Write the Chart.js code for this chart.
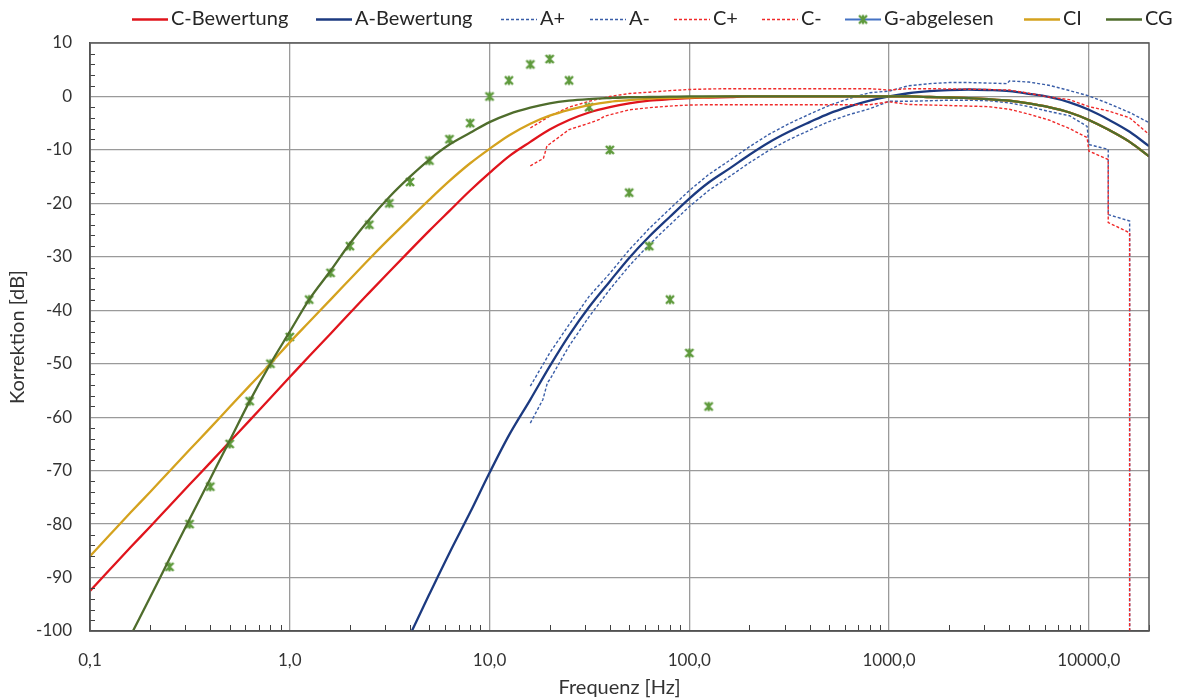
<!DOCTYPE html>
<html lang="de">
<head>
<meta charset="utf-8">
<title>Korrektion über Frequenz</title>
<script src="https://cdn.jsdelivr.net/npm/chart.js@4.4.1/dist/chart.umd.min.js"></script>
<style>
    html, body { margin: 0; padding: 0; background: #ffffff; }
    canvas { display: block; }
</style>
</head>
<body>
<canvas id="myChart" width="1178" height="698"></canvas>
<script>
// DATEN
const freqBasis = [0.1, 0.125, 0.16, 0.2, 0.25, 0.315, 0.4, 0.5, 0.63, 0.8,
    1, 1.25, 1.6, 2, 2.5, 3.15, 4, 5, 6.3, 8,
    10, 12.5, 16, 20, 25, 31.5, 40, 50, 63, 80,
    100, 125, 160, 200, 250, 315, 400, 500, 630, 800,
    1000, 1250, 1600, 2000, 2500, 3150, 4000, 5000, 6300, 8000,
    10000, 12500, 16000, 20000]
const cBewertung = [-92.5, -88.6, -84.3, -80.5, -76.6, -72.6, -68.5, -64.6, -60.6, -56.4,
    -52.5, -48.6, -44.4, -40.5, -36.7, -32.8, -28.8, -25.1, -21.4, -17.6,
    -14.3, -11.2, -8.5, -6.2, -4.4, -3.0, -2.0, -1.3, -0.8, -0.5,
    -0.3, -0.2, -0.1, 0, 0, 0, 0, 0, 0, 0,
    0, 0, -0.1, -0.2, -0.3, -0.5, -0.8, -1.3, -2.0, -3.0,
    -4.4, -6.2, -8.5, -11.2]
const ciKurve = [-86.0, -82.1, -77.8, -74.0, -70.1, -66.1, -62.0, -58.1, -54.1, -50.0,
    -46.0, -42.2, -38.0, -34.2, -30.4, -26.6, -22.8, -19.3, -15.8, -12.5,
    -9.8, -7.3, -5.1, -3.6, -2.5, -1.6, -1.0, -0.7, -0.4, -0.3,
    -0.2, -0.1, 0, 0, 0, 0, 0, 0, 0, 0,
    0, 0, -0.1, -0.2, -0.3, -0.5, -0.8, -1.3, -2.0, -3.0,
    -4.4, -6.2, -8.5, -11.2]
const cgKurve = [-115.8, -108.7, -100.8, -93.7, -86.5, -79.1, -71.5, -64.4, -57.0, -50.0,
    -44.0, -38.0, -32.6, -27.5, -23.0, -18.8, -15.0, -11.8, -9.0, -6.8,
    -4.8, -3.3, -2.1, -1.3, -0.8, -0.5, -0.3, -0.15, -0.1, -0.05,
    0, 0, 0, 0, 0, 0, 0, 0, 0, 0,
    0, 0, -0.1, -0.2, -0.3, -0.5, -0.8, -1.3, -2.0, -3.0,
    -4.4, -6.2, -8.5, -11.2]

const freqA = [4, 5, 6.3, 8, 10, 12.5, 16, 20, 25, 31.5, 40, 50, 63, 80,
    100, 125, 160, 200, 250, 315, 400, 500, 630, 800,
    1000, 1250, 1600, 2000, 2500, 3150, 4000, 5000, 6300, 8000,
    10000, 12500, 16000, 20000]
const aBewertung = [-100.7, -93.1, -85.4, -77.8, -70.4, -63.4, -56.7, -50.5, -44.7, -39.4, -34.6, -30.2, -26.2, -22.5,
    -19.1, -16.1, -13.4, -10.9, -8.6, -6.6, -4.8, -3.2, -1.9, -0.8,
    0, 0.6, 1.0, 1.2, 1.3, 1.2, 1.0, 0.5, -0.1, -1.1,
    -2.5, -4.3, -6.6, -9.3]

const freqAPlus = [16, 20, 25, 31.5, 40, 50, 63, 80, 100, 125, 160, 200, 250, 315, 400, 500, 630, 800,
    1000, 1250, 1600, 2000, 2500, 3150, 3900, 4000, 5000, 6300, 8000, 10000, 12500, 16000, 20000]
const aPlus = [-54.2, -48.0, -42.7, -37.4, -33.1, -28.7, -24.7, -21.0, -17.6, -14.6, -11.9, -9.4, -7.1, -5.1, -3.3, -1.7, -0.4, 0.7,
    1.0, 2.0, 2.4, 2.6, 2.6, 2.5, 2.4, 2.9, 2.7, 2.1, 1.1, 0.1, -1.3, -3.0, -4.9]

const freqAMinus = [16, 18.5, 19.5, 20, 25, 31.5, 40, 50, 63, 80, 100, 125, 160, 200, 250, 315, 400, 500, 630, 800,
    1000, 1250, 1600, 2000, 2500, 3150, 4000, 5000, 6300, 8000, 9800, 10000, 12500, 12500, 16000, 16000]
const aMinus = [-61.1, -56.7, -53.5, -53.0, -46.7, -41.2, -36.1, -31.7, -27.7, -24.0, -20.6, -17.6, -14.9, -12.4, -10.1, -8.1, -6.3, -4.7, -3.4, -2.3,
    -0.9, -0.9, -0.8, -0.7, -0.7, -0.8, -1.2, -1.9, -2.8, -3.6, -5.6, -9.0, -9.9, -22.1, -23.3, -110]

const freqCPlus = [16, 20, 25, 31.5, 40, 50, 63, 80, 100, 125, 160, 200, 250, 315, 400, 500, 630, 800,
    1000, 1250, 1600, 2000, 2500, 3150, 4000, 5000, 6300, 8000, 10000, 12500, 16000, 20000]
const cPlus = [-5.9, -3.7, -2.0, -0.9, 0.0, 0.55, 0.8, 1.1, 1.3, 1.4, 1.45, 1.45, 1.45, 1.45, 1.45, 1.45, 1.45, 1.45,
    1.2, 1.45, 1.45, 1.4, 1.35, 1.3, 1.2, 0.6, -0.1, -0.6, -1.9, -2.7, -4.0, -7.1]

const freqCMinus = [16, 18.6, 19.4, 20, 25, 31.5, 35.5, 37.6, 50, 63, 80, 100, 125, 160, 200, 250, 315, 400, 500, 630, 800,
    1000, 1250, 1600, 2000, 2500, 3150, 4000, 5000, 6300, 8000, 9800, 10000, 12500, 12500, 16000, 16000]
const cMinus = [-13.0, -11.6, -9.2, -8.9, -6.2, -5.0, -4.3, -3.7, -2.5, -2.1, -1.8, -1.6, -1.55, -1.55, -1.55, -1.55, -1.55, -1.55, -1.55, -1.55, -1.55,
    -1.0, -1.5, -1.6, -1.7, -1.8, -1.9, -2.4, -3.3, -4.4, -6.0, -7.7, -10.2, -11.8, -23.6, -25.5, -110]

const freqG = [0.25, 0.315, 0.4, 0.5, 0.63, 0.8, 1, 1.25, 1.6, 2, 2.5, 3.15, 4, 5, 6.3, 8,
    10, 12.5, 16, 20, 25, 31.5, 40, 50, 63, 80, 100, 125]
const gAbgelesen = [-88, -80, -73, -65, -57, -50, -45, -38, -33, -28, -24, -20, -16, -12, -8, -5,
    0, 3, 6, 7, 3, -2, -10, -18, -28, -38, -48, -58]

const xTicks = [0.1, 1, 10, 100, 1000, 10000]

// FUNKTIONEN
function punkte(fx, fy) {
    return fx.map((x, i) => ({ x: x, y: fy[i] }))
}

function markerBild(farbe) {
    const c = document.createElement("canvas")
    c.width = 12
    c.height = 12
    const g = c.getContext("2d")
    g.strokeStyle = farbe
    g.lineWidth = 2.4
    g.beginPath()
    g.moveTo(2, 2); g.lineTo(10, 10)
    g.moveTo(10, 2); g.lineTo(2, 10)
    g.moveTo(6, 1.5); g.lineTo(6, 10.5)
    g.stroke()
    return c
}

const marker = markerBild("#5e9a3c")
const legendeX = [132, 316, 501, 590, 674, 762, 845, 1024, 1106] // Startpunkte der Legendeneinträge

const legendePlugin = {
    id: "legende",
    afterDraw(chart) {
        const ctx = chart.ctx
        const y = 19
        ctx.save()
        ctx.font = "20px Lato"
        ctx.textBaseline = "middle"
        chart.data.datasets.forEach((ds, i) => {
            const x0 = legendeX[i]
            ctx.strokeStyle = ds.borderColor
            ctx.lineWidth = ds.legendBreite || ds.borderWidth
            ctx.setLineDash(ds.borderDash || [])
            ctx.beginPath()
            ctx.moveTo(x0, y + 0.5)
            ctx.lineTo(x0 + 36, y + 0.5)
            ctx.stroke()
            ctx.setLineDash([])
            if (ds.showLine === false) {
                ctx.drawImage(marker, x0 + 18 - 6, y - 5.5)
            }
            ctx.fillStyle = "#262626"
            ctx.fillText(ds.label, x0 + 39, y)
        })
        ctx.restore()
    }
}

const rahmenPlugin = {
    id: "rahmen",
    afterDraw(chart) {
        const ctx = chart.ctx
        const a = chart.chartArea
        const xs = chart.scales.x
        const ys = chart.scales.y
        ctx.save()
        ctx.strokeStyle = "#404040"
        ctx.lineWidth = 1
        ctx.beginPath()
        // kleine Striche auf der y-Achse
        for (let v = -98; v < 10; v += 2) {
            if (v % 10 === 0) continue
            const py = Math.round(ys.getPixelForValue(v)) + 0.5
            ctx.moveTo(a.left, py)
            ctx.lineTo(a.left + 5, py)
        }
        // kleine Striche auf der x-Achse
        for (const d of xTicks) {
            for (let m = 2; m <= 9; m++) {
                const v = m * d
                if (v > 20000) break
                const px = Math.round(xs.getPixelForValue(v)) + 0.5
                ctx.moveTo(px, a.bottom)
                ctx.lineTo(px, a.bottom - 6)
            }
        }
        ctx.stroke()
        ctx.strokeStyle = "#595959"
        ctx.lineWidth = 1.5
        ctx.strokeRect(a.left, a.top, a.right - a.left, a.bottom - a.top)
        ctx.restore()
    }
}

function graficar() {
    Chart.defaults.font.family = "Lato"
    Chart.defaults.color = "#262626"
    const linie = { showLine: true, pointRadius: 0, pointHoverRadius: 0, fill: false }
    const glatt = { cubicInterpolationMode: "monotone" }
    const datensaetze = [
        { ...linie, ...glatt, label: "C-Bewertung", data: punkte(freqBasis, cBewertung), borderColor: "#e0141c", borderWidth: 2.3 },
        { ...linie, ...glatt, label: "A-Bewertung", data: punkte(freqA, aBewertung), borderColor: "#1c3a80", borderWidth: 2.3 },
        { ...linie, label: "A+", data: punkte(freqAPlus, aPlus), borderColor: "#3a5ea8", borderWidth: 1.4, borderDash: [3, 2] },
        { ...linie, label: "A-", data: punkte(freqAMinus, aMinus), borderColor: "#3a5ea8", borderWidth: 1.4, borderDash: [3, 2] },
        { ...linie, label: "C+", data: punkte(freqCPlus, cPlus), borderColor: "#f02a2a", borderWidth: 1.4, borderDash: [3, 2] },
        { ...linie, label: "C-", data: punkte(freqCMinus, cMinus), borderColor: "#f02a2a", borderWidth: 1.4, borderDash: [3, 2] },
        {
            label: "G-abgelesen", data: punkte(freqG, gAbgelesen), showLine: false,
            borderColor: "#4472c4", legendBreite: 2, pointStyle: marker, pointRadius: 6, pointHoverRadius: 6
        },
        { ...linie, ...glatt, label: "CI", data: punkte(freqBasis, ciKurve), borderColor: "#d4a21e", borderWidth: 2.3 },
        { ...linie, ...glatt, label: "CG", data: punkte(freqBasis, cgKurve), borderColor: "#4f6d2c", borderWidth: 2.3 },
    ]
    // spätere Reihen oben zeichnen (wie Excel)
    datensaetze.forEach((ds, i) => { ds.order = datensaetze.length - i })

    const ctx = document.getElementById("myChart").getContext("2d")
    const myChart = new Chart(ctx, {
        type: "scatter",
        data: { datasets: datensaetze },
        options: {
            responsive: false,
            animation: false,
            layout: { padding: { top: 43, right: 29, left: 0, bottom: 0 } },
            scales: {
                x: {
                    type: "logarithmic",
                    min: 0.1,
                    max: 20000,
                    afterBuildTicks: (scale) => {
                        scale.ticks = xTicks.map(v => ({ value: v }))
                    },
                    afterFit: (scale) => { scale.height = 67 },
                    grid: { color: "#9a9a9a", lineWidth: 1.3, drawTicks: false },
                    border: { color: "#404040", width: 1.5 },
                    ticks: {
                        padding: 19,
                        font: { size: 17 },
                        color: "#333333",
                        maxRotation: 0,
                        autoSkip: false,
                        callback: (v) => Number(v).toFixed(1).replace(".", ","),
                    },
                    title: {
                        display: true,
                        text: "Frequenz [Hz]",
                        font: { size: 20, lineHeight: 1 },
                        color: "#333333",
                        padding: { top: 0, bottom: 0 },
                    },
                },
                y: {
                    min: -100,
                    max: 10,
                    afterFit: (scale) => { scale.width = 90 },
                    grid: { color: "#9a9a9a", lineWidth: 1.3, drawTicks: false },
                    border: { color: "#404040", width: 1.5 },
                    ticks: {
                        stepSize: 10,
                        padding: 18,
                        font: { size: 17 },
                        color: "#333333",
                    },
                    title: {
                        display: true,
                        text: "Korrektion [dB]",
                        font: { size: 20, lineHeight: 1 },
                        color: "#333333",
                        padding: { top: 8, bottom: 0 },
                    },
                },
            },
            plugins: {
                legend: { display: false },
                tooltip: { enabled: false },
            },
        },
        plugins: [rahmenPlugin, legendePlugin],
    })
    return myChart
}

// AUSFÜHRUNG
graficar()
</script>
</body>
</html>
